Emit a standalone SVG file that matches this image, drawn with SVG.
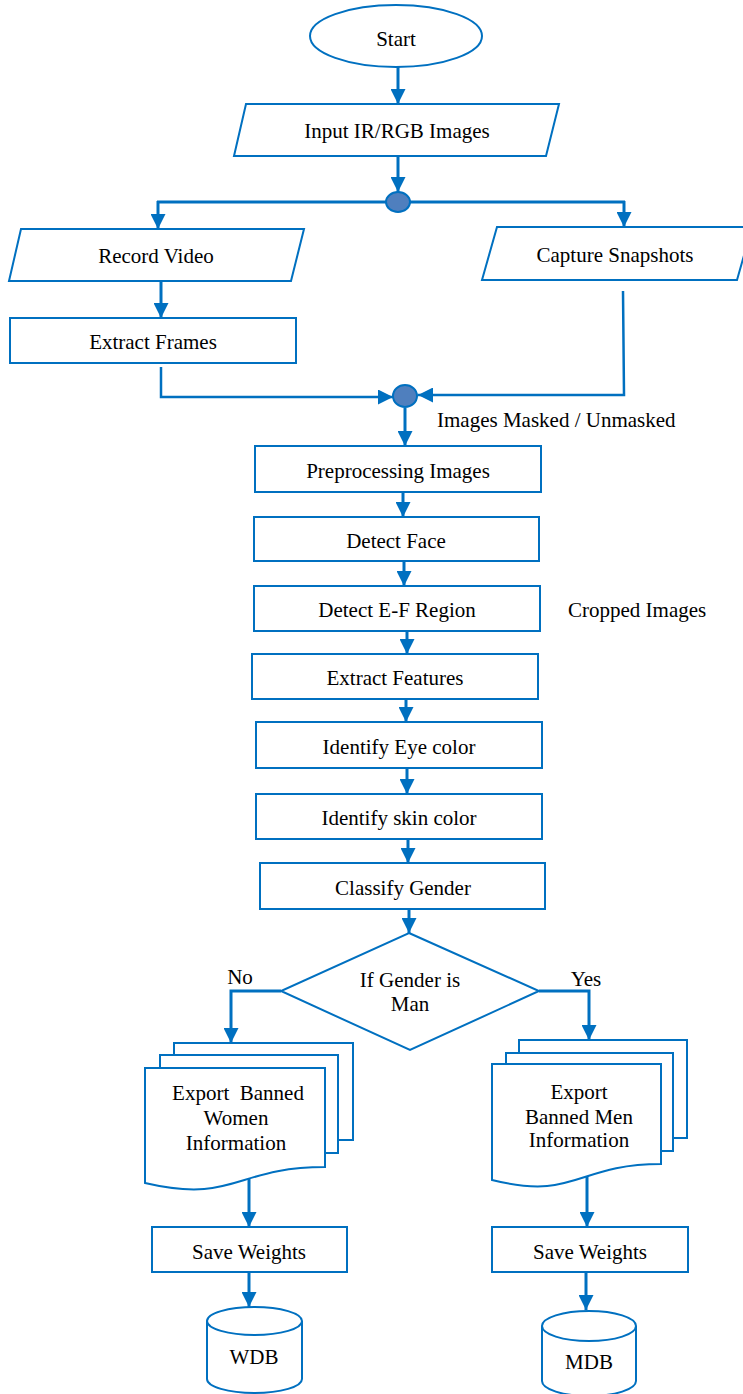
<svg xmlns="http://www.w3.org/2000/svg" width="743" height="1394" viewBox="0 0 743 1394">
<defs>
<style>
.s{fill:#fff;stroke:#0070C0;stroke-width:2}
.c{fill:none;stroke:#0070C0;stroke-width:3}
.j{fill:#4F7FBE;stroke:#0070C0;stroke-width:2}
text{font-family:"Liberation Serif","Times New Roman",serif;font-size:21px;fill:#000;text-anchor:middle}
.l{text-anchor:start}
</style>
<marker id="ah" markerUnits="userSpaceOnUse" markerWidth="15" markerHeight="15" refX="15" refY="7.5" orient="auto" viewBox="0 0 15 15">
<path d="M0,0 L15,7.5 L0,15 Z" fill="#0070C0"/>
</marker>
</defs>
<rect width="743" height="1394" fill="#fff"/>
<g id="connectors">
<line class="c" x1="398" y1="67" x2="398" y2="104" marker-end="url(#ah)"/>
<line class="c" x1="398" y1="156" x2="398" y2="192" marker-end="url(#ah)"/>
<line class="c" x1="157" y1="202" x2="625" y2="202"/>
<line class="c" x1="158" y1="201" x2="158" y2="229" marker-end="url(#ah)"/>
<line class="c" x1="624" y1="201" x2="624" y2="227" marker-end="url(#ah)"/>
<line class="c" x1="161" y1="281" x2="161" y2="318" marker-end="url(#ah)"/>
<polyline class="c" style="stroke-width:2.5" points="161,367 161,397 393,397" marker-end="url(#ah)"/>
<polyline class="c" style="stroke-width:2.5" points="623,291 624,395 418,395" marker-end="url(#ah)"/>
<line class="c" x1="405" y1="408" x2="405" y2="446" marker-end="url(#ah)"/>
<line class="c" x1="403" y1="492" x2="403" y2="517" marker-end="url(#ah)"/>
<line class="c" x1="404" y1="561" x2="404" y2="586" marker-end="url(#ah)"/>
<line class="c" x1="407" y1="631" x2="407" y2="654" marker-end="url(#ah)"/>
<line class="c" x1="406" y1="699" x2="406" y2="722" marker-end="url(#ah)"/>
<line class="c" x1="407" y1="768" x2="407" y2="794" marker-end="url(#ah)"/>
<line class="c" x1="408" y1="839" x2="408" y2="863" marker-end="url(#ah)"/>
<line class="c" x1="409" y1="909" x2="409" y2="933" marker-end="url(#ah)"/>
<polyline class="c" points="281,991 231,991 231,1043" marker-end="url(#ah)"/>
<polyline class="c" points="539,991 589,991 589,1040" marker-end="url(#ah)"/>
<line class="c" x1="249" y1="1177" x2="249" y2="1227" marker-end="url(#ah)"/>
<line class="c" x1="249" y1="1272" x2="249" y2="1307" marker-end="url(#ah)"/>
<line class="c" x1="587" y1="1173" x2="587" y2="1227" marker-end="url(#ah)"/>
<line class="c" x1="586" y1="1272" x2="586" y2="1310" marker-end="url(#ah)"/>
</g>
<g id="start"><ellipse class="s" cx="396" cy="36" rx="86" ry="31"/><text x="396" y="46">Start</text></g>
<g id="input"><polygon class="s" points="246,104 559,104 546,156 234,156"/><text x="397" y="138">Input IR/RGB Images</text></g>
<g id="split"><ellipse class="j" cx="398" cy="202" rx="12" ry="10"/></g>
<g id="record"><polygon class="s" points="21,229 304,229 291,281 9,281"/><text x="156" y="263">Record Video</text></g>
<g id="capture"><polygon class="s" points="497,227 752,227 737,280 482,280"/><text x="615" y="262">Capture Snapshots</text></g>
<g id="frames"><rect class="s" x="10" y="318" width="286" height="45"/><text x="153" y="349">Extract Frames</text></g>
<g id="merge"><ellipse class="j" cx="405" cy="396" rx="12" ry="11"/></g>
<text class="l" x="437" y="427">Images Masked / Unmasked</text>
<g id="preprocess"><rect class="s" x="255" y="446" width="286" height="46"/><text x="398" y="478">Preprocessing Images</text></g>
<g id="face"><rect class="s" x="254" y="517" width="285" height="44"/><text x="396" y="548">Detect Face</text></g>
<g id="ef"><rect class="s" x="254" y="586" width="286" height="45"/><text x="397" y="617">Detect E-F Region</text></g>
<text class="l" x="568" y="617">Cropped Images</text>
<g id="features"><rect class="s" x="252" y="654" width="286" height="45"/><text x="395" y="685">Extract Features</text></g>
<g id="eye"><rect class="s" x="256" y="722" width="286" height="46"/><text x="399" y="754">Identify Eye color</text></g>
<g id="skin"><rect class="s" x="256" y="794" width="286" height="45"/><text x="399" y="825">Identify skin color</text></g>
<g id="classify"><rect class="s" x="260" y="863" width="285" height="46"/><text x="403" y="895">Classify Gender</text></g>
<g id="decision"><polygon class="s" points="409,933 539,991 410,1050 281,991"/><text x="410" y="987">If Gender is</text><text x="410" y="1011">Man</text></g>
<text x="240" y="984">No</text>
<text x="586" y="986">Yes</text>
<g id="women">
<path class="s" d="M174,1043 H353 V1140 H174 Z"/>
<path class="s" d="M160,1055 H338 V1153 H160 Z"/>
<path class="s" d="M145,1068 H325 V1167 C235,1167 235,1204 145,1183 Z"/>
<text x="238" y="1100">Export&#160; Banned</text><text x="236" y="1125">Women</text><text x="236" y="1150">Information</text>
</g>
<g id="men">
<path class="s" d="M519,1040 H687 V1138 H519 Z"/>
<path class="s" d="M506,1053 H673 V1151 H506 Z"/>
<path class="s" d="M492,1064 H661 V1164 C576,1164 576,1201 492,1180 Z"/>
<text x="579" y="1099">Export</text><text x="579" y="1124">Banned Men</text><text x="579" y="1147">Information</text>
</g>
<g id="saveW"><rect class="s" x="152" y="1227" width="195" height="45"/><text x="249" y="1259">Save Weights</text></g>
<g id="saveM"><rect class="s" x="492" y="1227" width="196" height="45"/><text x="590" y="1259">Save Weights</text></g>
<g id="wdb">
<path class="s" d="M207,1321 V1379 A47.5,14 0 0 0 302,1379 V1321"/>
<ellipse class="s" cx="254.5" cy="1321" rx="47.5" ry="14"/>
<text x="254" y="1364">WDB</text>
</g>
<g id="mdb">
<path class="s" d="M542,1326 V1381 A47,15 0 0 0 636,1381 V1326"/>
<ellipse class="s" cx="589" cy="1326" rx="47" ry="15"/>
<text x="589" y="1369">MDB</text>
</g>
</svg>
